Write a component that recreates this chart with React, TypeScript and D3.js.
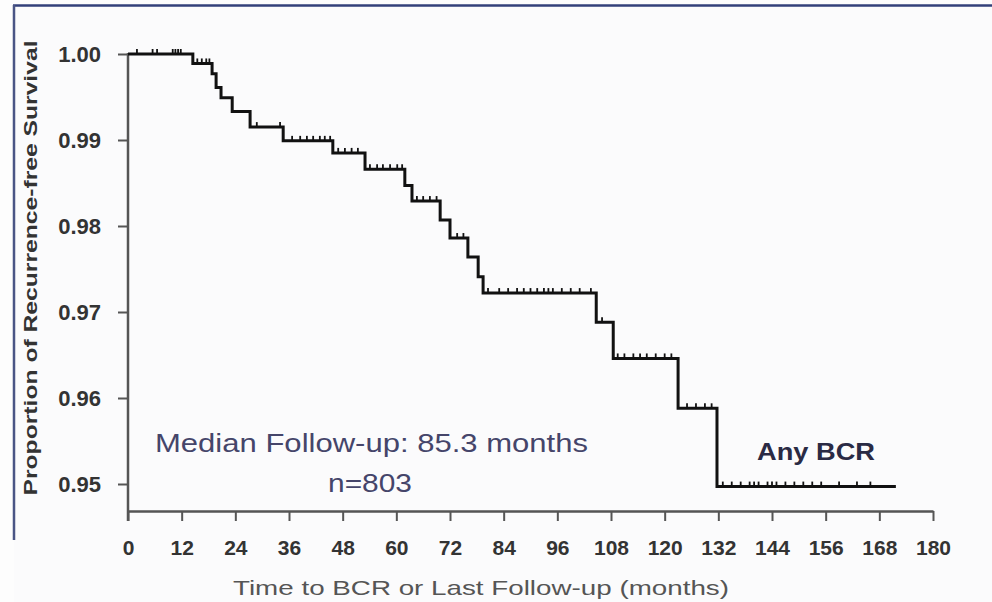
import React, { useEffect, useRef } from 'react';
import * as d3 from 'd3';

// Kaplan-Meier steps (months, proportion)
const stepTimes = [0, 14.5, 18.8, 19.7, 20.8, 23.3, 27.3, 34.7, 45.8, 53.0, 61.9, 63.5, 69.8, 72.0, 76.0, 78.3, 79.4, 104.7, 108.5, 123.0, 131.7];
const survival = [1.0, 0.9989, 0.9977, 0.9961, 0.9949, 0.9933, 0.9915, 0.9899, 0.9885, 0.9866, 0.9847, 0.9829, 0.9807, 0.9786, 0.9764, 0.9741, 0.9722, 0.9688, 0.9646, 0.9588, 0.9497];
const lastFollowUp = 171.7;

// censored observations (tick marks on the curve)
const censored = [
  2, 5.5, 6.5, 10, 10.6, 11.2, 11.8,
  15.5, 16.5, 17.5, 18.2,
  28.8, 34,
  36.7, 38.5, 40, 41.4, 42.9, 44, 45.2,
  47, 48.5, 50, 51.4,
  54.1, 55.7, 57, 58.6, 60.2, 61.3,
  64.6, 66, 67.5, 69,
  73.6, 75,
  80.5, 83, 85, 87, 88.5, 90, 91.5, 93, 94, 95, 97, 99, 101, 103.5,
  106,
  109.5, 111, 113, 114.5, 116, 118, 120, 121.5,
  125, 127, 129, 130.5,
  133, 135, 137, 139, 140, 141, 143, 144, 145, 147, 149, 151, 153, 155, 159, 163, 166,
];

const xTicks = [0, 12, 24, 36, 48, 60, 72, 84, 96, 108, 120, 132, 144, 156, 168, 180];
const yTicks = [1.0, 0.99, 0.98, 0.97, 0.96, 0.95];

const yTitle = 'Proportion of Recurrence-free Survival';
const xTitle = 'Time to BCR or Last Follow-up (months)';
const noteLine1 = 'Median  Follow-up:  85.3 months';
const noteLine2 = 'n=803';
const curveLabel = 'Any  BCR';

const FONT = '"Liberation Sans", Arial, sans-serif';

export default function App() {
  const svgRef = useRef<SVGSVGElement>(null);

  useEffect(() => {
    const svg = d3.select(svgRef.current);
    svg.selectAll('*').remove();

    const xScale = d3.scaleLinear().domain([0, 180]).range([128, 933]);
    const yScale = d3.scaleLinear().domain([0.95, 1.0]).range([484, 54]);
    const axisY = 511;

    // page frame
    svg.append('rect').attr('width', 992).attr('height', 602).attr('fill', '#fdfdfd');
    svg.append('rect').attr('x', 14).attr('y', 6).attr('width', 978).attr('height', 596).attr('fill', '#fbfbfc');
    svg.append('line').attr('x1', 13).attr('x2', 992).attr('y1', 5.5).attr('y2', 5.5)
      .attr('stroke', '#33407a').attr('stroke-width', 2.5);
    svg.append('line').attr('x1', 14).attr('x2', 14).attr('y1', 5).attr('y2', 540)
      .attr('stroke', '#4a5585').attr('stroke-width', 2.5);

    // x axis
    const gx = svg.append('g')
      .attr('transform', `translate(0,${axisY})`)
      .call(d3.axisBottom(xScale).tickValues(xTicks).tickSize(10).tickSizeOuter(0).tickPadding(19));
    gx.select('.domain').attr('stroke', '#555').attr('stroke-width', 2.5);
    gx.selectAll('.tick line').attr('stroke', '#555').attr('stroke-width', 2);
    gx.selectAll('.tick text')
      .attr('font-family', FONT).attr('font-size', 21).attr('font-weight', 'bold').attr('fill', '#333');

    // y axis
    const gy = svg.append('g')
      .attr('transform', 'translate(128,0)')
      .call(d3.axisLeft(yScale).tickValues(yTicks).tickSize(10).tickPadding(17).tickFormat(d3.format('.2f')));
    gy.select('.domain').remove();
    gy.selectAll('.tick line').attr('stroke', '#555').attr('stroke-width', 2);
    gy.selectAll('.tick text')
      .attr('font-family', FONT).attr('font-size', 22).attr('font-weight', 'bold').attr('fill', '#333');
    svg.append('line').attr('x1', 128).attr('x2', 128).attr('y1', yScale(1.0) - 1).attr('y2', axisY + 10)
      .attr('stroke', '#555').attr('stroke-width', 2.5);

    // survival curve
    const points: [number, number][] = stepTimes.map((t, i) => [t, survival[i]]);
    points.push([lastFollowUp, survival[survival.length - 1]]);
    const km = d3.line<[number, number]>()
      .x(d => xScale(d[0]))
      .y(d => yScale(d[1]))
      .curve(d3.curveStepAfter);
    svg.append('path')
      .datum(points)
      .attr('d', km)
      .attr('fill', 'none')
      .attr('stroke', '#111')
      .attr('stroke-width', 3);

    // censor marks
    const levelAt = (t: number) => survival[d3.bisectRight(stepTimes, t) - 1];
    svg.append('g')
      .selectAll('line')
      .data(censored)
      .join('line')
      .attr('x1', d => xScale(d))
      .attr('x2', d => xScale(d))
      .attr('y1', d => yScale(levelAt(d)))
      .attr('y2', d => yScale(levelAt(d)) - 5)
      .attr('stroke', '#111')
      .attr('stroke-width', 1.8);

    // titles
    svg.append('text')
      .attr('transform', 'translate(37,268) rotate(-90)')
      .attr('text-anchor', 'middle')
      .attr('font-family', FONT).attr('font-size', 19).attr('font-weight', 'bold').attr('fill', '#333')
      .attr('textLength', 455).attr('lengthAdjust', 'spacingAndGlyphs')
      .text(yTitle);
    svg.append('text')
      .attr('x', 481).attr('y', 595)
      .attr('text-anchor', 'middle')
      .attr('font-family', FONT).attr('font-size', 21).attr('fill', '#555')
      .attr('textLength', 496).attr('lengthAdjust', 'spacingAndGlyphs')
      .text(xTitle);

    // annotations
    svg.append('text')
      .attr('x', 155).attr('y', 452)
      .attr('font-family', FONT).attr('font-size', 26).attr('fill', '#45456a')
      .attr('textLength', 433).attr('lengthAdjust', 'spacingAndGlyphs')
      .text(noteLine1);
    svg.append('text')
      .attr('x', 328).attr('y', 492)
      .attr('font-family', FONT).attr('font-size', 26).attr('fill', '#45456a')
      .attr('textLength', 84).attr('lengthAdjust', 'spacingAndGlyphs')
      .text(noteLine2);
    svg.append('text')
      .attr('x', 757).attr('y', 460)
      .attr('font-family', FONT).attr('font-size', 23).attr('font-weight', 'bold').attr('fill', '#2a2a44')
      .attr('textLength', 118).attr('lengthAdjust', 'spacingAndGlyphs')
      .text(curveLabel);
  }, []);

  return (
    <React.Fragment>
      <svg ref={svgRef} width={992} height={602} style={{ position: 'absolute', left: 0, top: 0 }}></svg>
    </React.Fragment>
  );
}
